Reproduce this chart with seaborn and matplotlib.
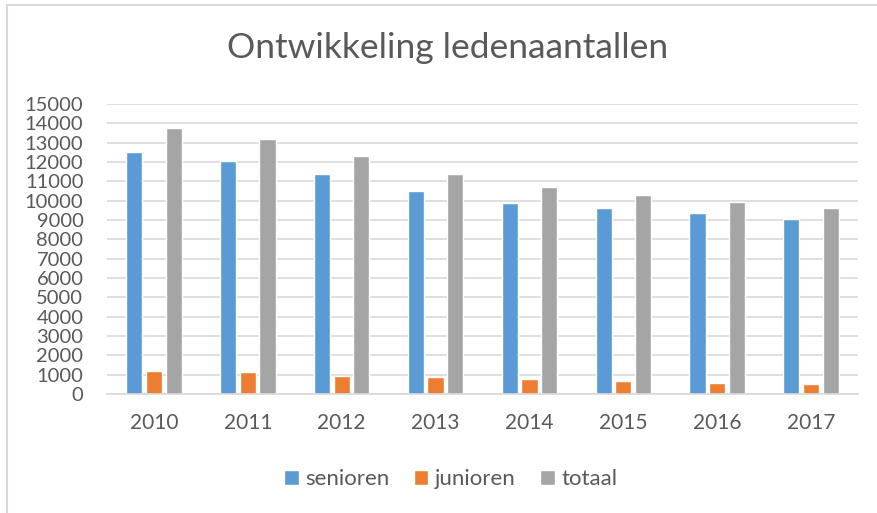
import pandas as pd
import matplotlib.pyplot as plt
import seaborn as sns
from matplotlib.lines import Line2D

# Values
jaren = ["2010", "2011", "2012", "2013", "2014", "2015", "2016", "2017"]
senioren = [12530, 12030, 11380, 10500, 9900, 9600, 9340, 9070]
junioren = [1210, 1160, 940, 880, 770, 680, 580, 540]
totaal = [13760, 13210, 12330, 11380, 10690, 10310, 9950, 9640]
groepen = ["senioren", "junioren", "totaal"]
kleuren = ["#5B9BD5", "#ED7D31", "#A5A5A5"]

# Long format for seaborn
df = pd.DataFrame({"jaar": jaren, "senioren": senioren,
                   "junioren": junioren, "totaal": totaal})
df = df.melt(id_vars="jaar", var_name="groep", value_name="leden")

sns.set_theme(style="white")
plt.rcParams["font.family"] = ["Lato", "DejaVu Sans"]
tekst = "#595959"

fig = plt.figure(figsize=(8.77, 5.13), dpi=100)
ax = fig.add_axes([107 / 877, 1 - 394 / 513, (858 - 107) / 877, (394 - 104) / 513])

sns.barplot(data=df, x="jaar", y="leden", hue="groep", hue_order=groepen,
            palette=kleuren, saturation=1, width=0.63, gap=0.18, ax=ax)

ax.set_ylim(0, 15000)
ax.set_yticks(range(0, 15001, 1000))
ax.yaxis.grid(True, color="#D9D9D9", linewidth=1.2)
ax.set_axisbelow(True)
for s in ["top", "right", "left"]:
    ax.spines[s].set_visible(False)
ax.spines["bottom"].set_color("#D9D9D9")
ax.spines["bottom"].set_linewidth(1.2)
ax.tick_params(axis="y", length=0, pad=17, labelsize=14.5, labelcolor=tekst)
ax.tick_params(axis="x", length=0, pad=14, labelsize=15, labelcolor=tekst)
ax.set_xlabel("")
ax.set_ylabel("")

# Legend below the plot
h, l = ax.get_legend_handles_labels()
ax.get_legend().remove()
leg = fig.legend(h, l, loc="center", bbox_to_anchor=(0.514, 1 - 479 / 513),
                 ncol=3, frameon=False, fontsize=16, handlelength=0.65,
                 handleheight=0.65, handletextpad=0.3, columnspacing=1.1)
for t in leg.get_texts():
    t.set_color(tekst)

fig.text(0.51, 1 - 48 / 513, "Ontwikkeling ledenaantallen", ha="center",
         va="center", fontsize=25.5, color=tekst)

# Chart frame
fig.add_artist(Line2D([7 / 877, 1], [1 - 5 / 513] * 2, color="#D9D9D9", lw=1.5))
fig.add_artist(Line2D([7 / 877] * 2, [0, 1 - 5 / 513], color="#D9D9D9", lw=1.5))

fig.savefig("out.png", dpi=100)
